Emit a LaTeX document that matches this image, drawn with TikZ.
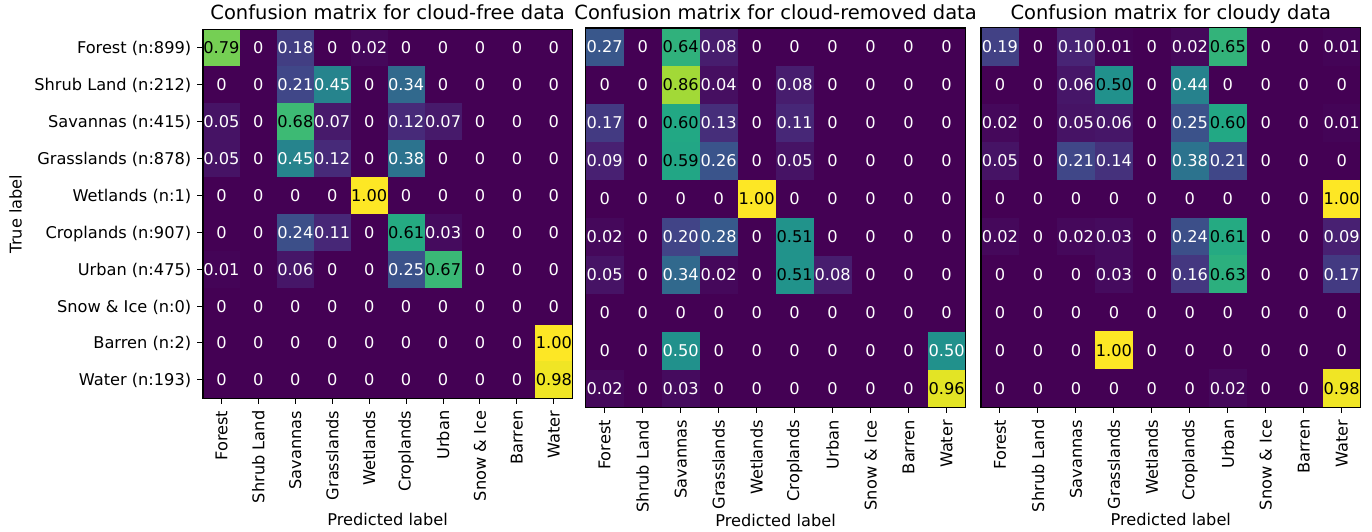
\documentclass[tikz,border=0pt]{standalone}
\usepackage{fontspec}
\setmainfont{DejaVu Sans}
\def\virR{{68,72,65,53,42,33,34,68,122,189,253}}
\def\virG{{1,36,68,95,120,145,168,191,209,223,231}}
\def\virB{{84,117,135,141,142,140,132,112,81,38,37}}
\newcommand\virset[1]{%
  \pgfmathsetmacro\vv{min(max(#1,0),1)*10}%
  \pgfmathtruncatemacro\vi{min(floor(\vv),9)}%
  \pgfmathsetmacro\vf{\vv-\vi}%
  \pgfmathtruncatemacro\vj{\vi+1}%
  \pgfmathsetmacro\ca{\virR[\vi]}\pgfmathsetmacro\cb{\virR[\vj]}%
  \pgfmathtruncatemacro\vr{round(\ca+(\cb-\ca)*\vf)}%
  \pgfmathsetmacro\ca{\virG[\vi]}\pgfmathsetmacro\cb{\virG[\vj]}%
  \pgfmathtruncatemacro\vg{round(\ca+(\cb-\ca)*\vf)}%
  \pgfmathsetmacro\ca{\virB[\vi]}\pgfmathsetmacro\cb{\virB[\vj]}%
  \pgfmathtruncatemacro\vb{round(\ca+(\cb-\ca)*\vf)}%
  \edef\tmpdef{\noexpand\definecolor{cellc}{RGB}{\vr,\vg,\vb}}\tmpdef}
\newcommand\cmval[1]{\ifdim#1pt=0pt 0\else\pgfmathprintnumber[fixed,fixed zerofill,precision=2,assume math mode=true]{#1}\fi}
\tikzset{
  numtxt/.style={font=\fontsize{8.1}{9.7}\selectfont, inner sep=0pt, anchor=base},
  ticktxt/.style={font=\fontsize{8.1}{9.7}\selectfont, inner sep=0pt},
  titletxt/.style={font=\fontsize{9.75}{11.7}\selectfont, inner sep=0pt, anchor=base},
  frameline/.style={draw=black, line width=0.6pt},
  tickline/.style={draw=black, line width=0.5pt},
}
% #1 prefix, #2 x0, #3 y0, #4 cell w, #5 cell h, #6 data
\newcommand\drawcm[6]{%
  \foreach \row [count=\i from 0] in {#6} {
    \foreach \v [count=\j from 0] in \row {
      \virset{\v}
      \fill[cellc] (#2+\j*#4, #3+\i*#5) rectangle ++(#4+0.4, #5+0.4);
      \ifdim\v pt>0.5pt \def\tc{black}\else\def\tc{white}\fi
      \node[numtxt, text=\tc] (#1-\i-\j) at (#2+\j*#4+0.5*#4, #3+\i*#5+0.5*#5+6) {\cmval{\v}};
    }
  }
  \draw[frameline] (#2,#3) rectangle ++(10*#4,10*#5);
  \foreach \lab [count=\j from 0] in {Forest,Shrub Land,Savannas,Grasslands,Wetlands,Croplands,Urban,Snow \& Ice,Barren,Water} {
    \draw[tickline] (#2+\j*#4+0.5*#4, #3+10*#5) -- ++(0,5.7);
    \node[ticktxt, rotate=90, anchor=east] (#1-x\j) at (#2+\j*#4+0.5*#4, #3+10*#5+12) {\lab};
  }
}
\begin{document}
\begin{tikzpicture}[x=0.5pt,y=-0.5pt]
\useasboundingbox (0,0) rectangle (1372,531);
\fill[white] (0,0) rectangle (1372,531);
% matrix 1
\drawcm{a}{203}{29.5}{36.93}{36.88}{
{0.79,0,0.18,0,0.02,0,0,0,0,0},
{0,0,0.21,0.45,0,0.34,0,0,0,0},
{0.05,0,0.68,0.07,0,0.12,0.07,0,0,0},
{0.05,0,0.45,0.12,0,0.38,0,0,0,0},
{0,0,0,0,1,0,0,0,0,0},
{0,0,0.24,0.11,0,0.61,0.03,0,0,0},
{0.01,0,0.06,0,0,0.25,0.67,0,0,0},
{0,0,0,0,0,0,0,0,0,0},
{0,0,0,0,0,0,0,0,0,1},
{0,0,0,0,0,0,0,0,0,0.98}}
\node[titletxt] (t1) at (387.6,19.5) {Confusion matrix for cloud-free data};
\node[ticktxt] (p1) at (387.6,519.5) {Predicted label};
\foreach \lab [count=\i from 0] in {Forest (n:899),Shrub Land (n:212),Savannas (n:415),Grasslands (n:878),Wetlands (n:1),Croplands (n:907),Urban (n:475),Snow \& Ice (n:0),Barren (n:2),Water (n:193)} {
  \draw[tickline] (203,29.5+\i*36.88+18.44) -- ++(-5.7,0);
  \node[ticktxt, anchor=base east] (y\i) at (191.6,29.5+\i*36.88+18.44+6) {\lab};
}
\node[ticktxt, rotate=90] (tl) at (15.5,214) {True label};
% matrix 2
\drawcm{b}{585.7}{28}{37.99}{37.97}{
{0.27,0,0.64,0.08,0,0,0,0,0,0},
{0,0,0.86,0.04,0,0.08,0,0,0,0},
{0.17,0,0.60,0.13,0,0.11,0,0,0,0},
{0.09,0,0.59,0.26,0,0.05,0,0,0,0},
{0,0,0,0,1,0,0,0,0,0},
{0.02,0,0.20,0.28,0,0.51,0,0,0,0},
{0.05,0,0.34,0.02,0,0.51,0.08,0,0,0},
{0,0,0,0,0,0,0,0,0,0},
{0,0,0.5,0,0,0,0,0,0,0.5},
{0.02,0,0.03,0,0,0,0,0,0,0.96}}
\node[titletxt] (t2) at (775.6,19.5) {Confusion matrix for cloud-removed data};
\node[ticktxt] (p2) at (775.6,520) {Predicted label};
% matrix 3
\drawcm{c}{981}{27.7}{37.97}{37.96}{
{0.19,0,0.10,0.01,0,0.02,0.65,0,0,0.01},
{0,0,0.06,0.501,0,0.44,0,0,0,0},
{0.02,0,0.05,0.06,0,0.25,0.60,0,0,0.01},
{0.05,0,0.21,0.14,0,0.38,0.21,0,0,0},
{0,0,0,0,0,0,0,0,0,1},
{0.02,0,0.02,0.03,0,0.24,0.61,0,0,0.09},
{0,0,0,0.03,0,0.16,0.63,0,0,0.17},
{0,0,0,0,0,0,0,0,0,0},
{0,0,0,1,0,0,0,0,0,0},
{0,0,0,0,0,0,0.02,0,0,0.98}}
\node[titletxt] (t3) at (1170.8,19.5) {Confusion matrix for cloudy data};
\node[ticktxt] (p3) at (1170.8,519) {Predicted label};
\end{tikzpicture}
\end{document}
